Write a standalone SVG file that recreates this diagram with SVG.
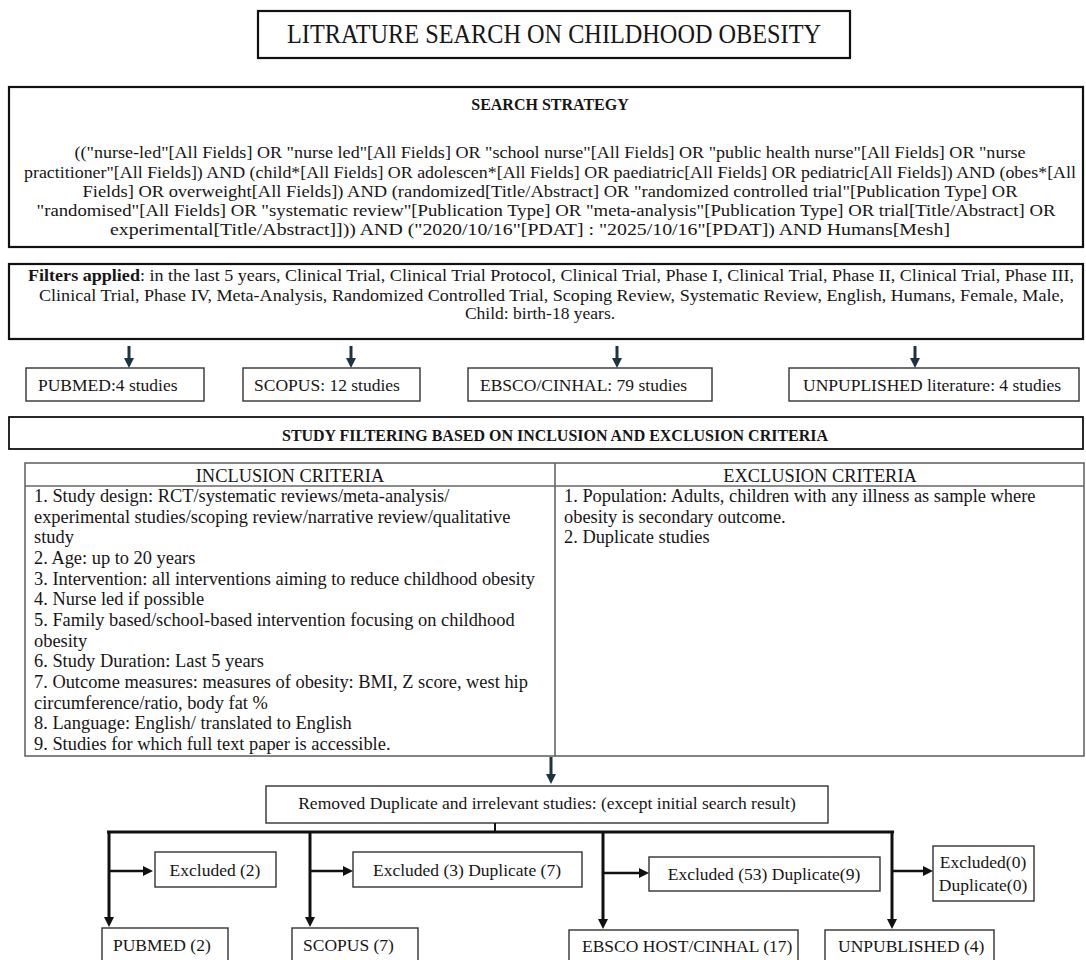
<svg xmlns="http://www.w3.org/2000/svg" width="1086" height="960" viewBox="0 0 1086 960">
<defs>
<style>
.t{font-family:"Liberation Serif","Times New Roman",serif;font-size:17.5px;fill:#161616}
.s{font-size:16.5px}
.tb{font-size:18.4px}
.b{font-weight:bold}
.box{fill:#fff;stroke:#333;stroke-width:1.4}
.thick{fill:#fff;stroke:#111;stroke-width:2.2}
.grid{fill:none;stroke:#666;stroke-width:1.6}
.arrT{stroke:#1c3440;stroke-width:3;fill:none}
.conn{stroke:#111;stroke-width:3;fill:none}
.br{stroke:#111;stroke-width:2.5;fill:none}
</style>
<marker id="mT" markerUnits="userSpaceOnUse" markerWidth="10" markerHeight="10" refX="4" refY="5" orient="auto"><path d="M0,0 L10,5 L0,10 z" fill="#1c3440"/></marker>
<marker id="mB" markerUnits="userSpaceOnUse" markerWidth="10" markerHeight="10" refX="4" refY="5" orient="auto"><path d="M0,0 L10,5 L0,10 z" fill="#111"/></marker>
</defs>
<rect width="1086" height="960" fill="#fff"/>

<g id="title">
<rect class="thick" x="258" y="11" width="592" height="47"/>
<text class="t" x="554" y="43" text-anchor="middle" style="font-size:27px" textLength="534" lengthAdjust="spacingAndGlyphs">LITRATURE SEARCH ON CHILDHOOD OBESITY</text>
</g>

<g id="search-strategy">
<rect class="thick" x="9" y="87" width="1074" height="160"/>
<text class="t b" x="550" y="110" text-anchor="middle" style="font-size:16px">SEARCH STRATEGY</text>
<text class="t s" x="550" y="158" text-anchor="middle" textLength="951" lengthAdjust="spacingAndGlyphs">(("nurse-led"[All Fields] OR "nurse led"[All Fields] OR "school nurse"[All Fields] OR "public health nurse"[All Fields] OR "nurse</text>
<text class="t s" x="550" y="178" text-anchor="middle" textLength="1052" lengthAdjust="spacingAndGlyphs">practitioner"[All Fields]) AND (child*[All Fields] OR adolescen*[All Fields] OR paediatric[All Fields] OR pediatric[All Fields]) AND (obes*[All</text>
<text class="t s" x="550" y="197" text-anchor="middle" textLength="935" lengthAdjust="spacingAndGlyphs">Fields] OR overweight[All Fields]) AND (randomized[Title/Abstract] OR "randomized controlled trial"[Publication Type] OR</text>
<text class="t s" x="546" y="216" text-anchor="middle" textLength="1019" lengthAdjust="spacingAndGlyphs">"randomised"[All Fields] OR "systematic review"[Publication Type] OR "meta-analysis"[Publication Type] OR trial[Title/Abstract] OR</text>
<text class="t s" x="530" y="235" text-anchor="middle" textLength="840" lengthAdjust="spacingAndGlyphs">experimental[Title/Abstract]])) AND ("2020/10/16"[PDAT] : "2025/10/16"[PDAT]) AND Humans[Mesh]</text>
</g>

<g id="filters">
<rect class="thick" x="9" y="264" width="1074" height="75"/>
<text class="t" x="28" y="281" textLength="1046" lengthAdjust="spacingAndGlyphs"><tspan class="b">Filters applied</tspan>: in the last 5 years, Clinical Trial, Clinical Trial Protocol, Clinical Trial, Phase I, Clinical Trial, Phase II, Clinical Trial, Phase III,</text>
<text class="t" x="39" y="301" textLength="1025" lengthAdjust="spacingAndGlyphs">Clinical Trial, Phase IV, Meta-Analysis, Randomized Controlled Trial, Scoping Review, Systematic Review, English, Humans, Female, Male,</text>
<text class="t" x="540" y="319" text-anchor="middle">Child: birth-18 years.</text>
</g>

<g id="src-pubmed"><rect class="box" x="26" y="368" width="178" height="33"/><text class="t" x="38" y="391">PUBMED:4 studies</text></g>
<g id="src-scopus"><rect class="box" x="243" y="368" width="177" height="33"/><text class="t" x="254" y="391">SCOPUS: 12 studies</text></g>
<g id="src-ebsco"><rect class="box" x="468" y="368" width="244" height="33"/><text class="t" x="480" y="391">EBSCO/CINHAL: 79 studies</text></g>
<g id="src-unpub"><rect class="box" x="789" y="368" width="290" height="33"/><text class="t" x="803" y="391">UNPUPLISHED literature: 4 studies</text></g>

<g id="study-filtering">
<rect class="thick" x="9" y="417" width="1074" height="32" style="stroke-width:1.8"/>
<text class="t b" x="555" y="441" text-anchor="middle" textLength="546" lengthAdjust="spacingAndGlyphs" style="font-size:17px">STUDY FILTERING BASED ON INCLUSION AND EXCLUSION CRITERIA</text>
</g>

<g id="criteria-table">
<rect class="grid" x="25" y="463" width="1059" height="293"/>
<line class="grid" x1="25" y1="486" x2="1084" y2="486"/>
<line class="grid" x1="555" y1="463" x2="555" y2="756"/>
<text class="t tb" x="290" y="482" text-anchor="middle">INCLUSION CRITERIA</text>
<text class="t tb" x="820" y="482" text-anchor="middle">EXCLUSION CRITERIA</text>
<g id="inclusion">
<text class="t tb" x="34" y="502">1. Study design: RCT/systematic reviews/meta-analysis/</text>
<text class="t tb" x="34" y="523">experimental studies/scoping review/narrative review/qualitative</text>
<text class="t tb" x="34" y="543">study</text>
<text class="t tb" x="34" y="564">2. Age: up to 20 years</text>
<text class="t tb" x="34" y="585">3. Intervention: all interventions aiming to reduce childhood obesity</text>
<text class="t tb" x="34" y="605">4. Nurse led if possible</text>
<text class="t tb" x="34" y="626">5. Family based/school-based intervention focusing on childhood</text>
<text class="t tb" x="34" y="647">obesity</text>
<text class="t tb" x="34" y="667">6. Study Duration: Last 5 years</text>
<text class="t tb" x="34" y="688">7. Outcome measures: measures of obesity: BMI, Z score, west hip</text>
<text class="t tb" x="34" y="709">circumference/ratio, body fat %</text>
<text class="t tb" x="34" y="729">8. Language: English/ translated to English</text>
<text class="t tb" x="34" y="750">9. Studies for which full text paper is accessible.</text>
</g>
<g id="exclusion">
<text class="t tb" x="564" y="502">1. Population: Adults, children with any illness as sample where</text>
<text class="t tb" x="564" y="523">obesity is secondary outcome.</text>
<text class="t tb" x="564" y="543">2. Duplicate studies</text>
</g>
</g>

<g id="removed"><rect class="box" x="266" y="786" width="562" height="37"/><text class="t" x="547" y="809" text-anchor="middle">Removed Duplicate and irrelevant studies: (except initial search result)</text></g>

<g id="excl-pubmed"><rect class="box" x="155" y="852" width="121" height="35"/><text class="t" x="215" y="876" text-anchor="middle">Excluded (2)</text></g>
<g id="excl-scopus"><rect class="box" x="353" y="852" width="229" height="35"/><text class="t" x="467" y="876" text-anchor="middle">Excluded (3) Duplicate (7)</text></g>
<g id="excl-ebsco"><rect class="box" x="649" y="857" width="231" height="34"/><text class="t" x="764" y="880" text-anchor="middle">Excluded (53) Duplicate(9)</text></g>
<g id="excl-unpub"><rect class="box" x="933" y="846" width="101" height="55"/><text class="t" x="983" y="868" text-anchor="middle">Excluded(0)</text><text class="t" x="983" y="891" text-anchor="middle">Duplicate(0)</text></g>

<g id="res-pubmed"><rect class="box" x="102" y="928" width="126" height="45"/><text class="t" x="113" y="951">PUBMED (2)</text></g>
<g id="res-scopus"><rect class="box" x="292" y="928" width="126" height="45"/><text class="t" x="303" y="951">SCOPUS (7)</text></g>
<g id="res-ebsco"><rect class="box" x="569" y="930" width="229" height="45"/><text class="t" x="582" y="952">EBSCO HOST/CINHAL (17)</text></g>
<g id="res-unpub"><rect class="box" x="825" y="930" width="169" height="45"/><text class="t" x="838" y="952">UNPUBLISHED (4)</text></g>

<g id="connectors">
<line class="arrT" x1="129" y1="346" x2="129" y2="362" marker-end="url(#mT)"/>
<line class="arrT" x1="351" y1="346" x2="351" y2="362" marker-end="url(#mT)"/>
<line class="arrT" x1="617" y1="346" x2="617" y2="362" marker-end="url(#mT)"/>
<line class="arrT" x1="915" y1="346" x2="915" y2="362" marker-end="url(#mT)"/>
<line class="arrT" x1="551" y1="757" x2="551" y2="778" marker-end="url(#mT)"/>
<line stroke="#111" stroke-width="2" x1="495" y1="823" x2="495" y2="832"/>
<line class="conn" x1="107" y1="832" x2="894" y2="832"/>
<line class="conn" x1="109" y1="831" x2="109" y2="921" marker-end="url(#mB)"/>
<line class="conn" x1="310" y1="831" x2="310" y2="921" marker-end="url(#mB)"/>
<line class="conn" x1="603" y1="831" x2="603" y2="923" marker-end="url(#mB)"/>
<line class="conn" x1="892" y1="831" x2="892" y2="923" marker-end="url(#mB)"/>
<line class="br" x1="109" y1="871" x2="147" y2="871" marker-end="url(#mB)"/>
<line class="br" x1="310" y1="871" x2="347" y2="871" marker-end="url(#mB)"/>
<line class="br" x1="603" y1="873" x2="643" y2="873" marker-end="url(#mB)"/>
<line class="br" x1="892" y1="871" x2="927" y2="871" marker-end="url(#mB)"/>
</g>
</svg>
